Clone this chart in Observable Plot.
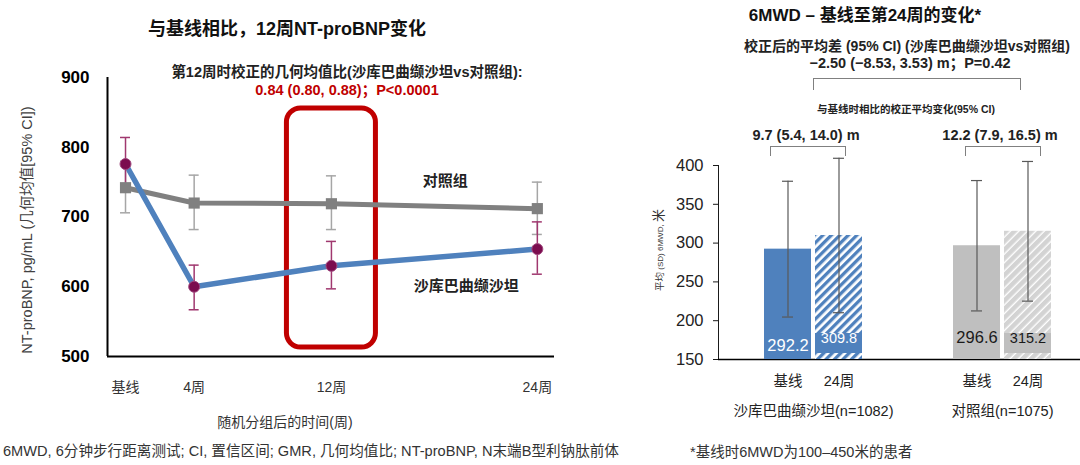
<!DOCTYPE html>
<html>
<head>
<meta charset="utf-8">
<script src="https://cdn.jsdelivr.net/npm/d3@7"></script>
<script src="https://cdn.jsdelivr.net/npm/@observablehq/plot@0.6"></script>
<style>
  body { margin: 0; background: #fff; }
  #root { position: relative; width: 1080px; height: 465px; overflow: hidden;
    font-family: "Liberation Sans", Arial, "Noto Sans CJK SC", sans-serif; color: #1a1a1a; }
  .t { position: absolute; white-space: nowrap; transform: translate(-50%, -50%); line-height: 1; }
  .l { position: absolute; white-space: nowrap; transform: translate(0, -50%); line-height: 1; }
  .b { font-weight: bold; }
  .br { position: absolute; border: 1.5px solid #808080; border-bottom: none; box-sizing: border-box; }
  #leftPlot { position: absolute; left: 0; top: 0; }
  #rightPlot { position: absolute; left: 640px; top: 0; }
  #leftPlot g[aria-label="y-axis tick label"] text, #leftPlot g[aria-label="y-axis"] text { font-size: 17px; font-weight: bold; fill: #000; }
  #leftPlot g[aria-label="x-axis tick label"] text, #leftPlot g[aria-label="x-axis"] text { font-size: 14px; fill: #333; }
  #rightPlot g[aria-label="y-axis tick label"] text, #rightPlot g[aria-label="y-axis"] text { font-size: 16.5px; fill: #222; }
  #rightPlot g[aria-label="x-axis tick label"] text, #rightPlot g[aria-label="x-axis"] text { font-size: 14.5px; fill: #222; }
</style>
</head>
<body>
<svg width="0" height="0" style="position:absolute">
  <defs>
    <pattern id="hatchBlue" patternUnits="userSpaceOnUse" width="6" height="6" patternTransform="rotate(45)">
      <rect width="6" height="6" fill="#ffffff"></rect>
      <rect width="3.3" height="6" fill="#4f81bd"></rect>
    </pattern>
    <pattern id="hatchGray" patternUnits="userSpaceOnUse" width="6" height="6" patternTransform="rotate(45)">
      <rect width="6" height="6" fill="#ffffff"></rect>
      <rect width="4.6" height="6" fill="#d3d3d3"></rect>
    </pattern>
  </defs>
</svg>
<div id="root">
  <div id="leftPlot"></div>
  <div id="rightPlot"></div>

  <!-- left panel texts -->
  <div class="t b" style="left:287px;top:29px;font-size:18px;color:#111">与基线相比，12周NT-proBNP变化</div>
  <div class="t b" style="left:347px;top:72px;font-size:14.5px;color:#222">第12周时校正的几何均值比(沙库巴曲缬沙坦vs对照组):</div>
  <div class="t b" style="left:347px;top:90px;font-size:14.5px;color:#c00000">0.84 (0.80, 0.88)；P&lt;0.0001</div>
  <div class="t" style="left:27px;top:230px;transform:translate(-50%,-50%) rotate(-90deg);font-size:14.5px;color:#404040">NT-proBNP, pg/mL (几何均值[95% CI])</div>
  <div class="t" style="left:285px;top:422px;font-size:14px;color:#333">随机分组后的时间(周)</div>
  <div class="l" style="left:3px;top:451px;font-size:14.6px;color:#333">6MWD, 6分钟步行距离测试; CI, 置信区间; GMR, 几何均值比; NT-proBNP, N末端B型利钠肽前体</div>

  <!-- right panel texts -->
  <div class="t b" style="left:865px;top:15px;font-size:17px;color:#111">6MWD – 基线至第24周的变化*</div>
  <div class="t b" style="left:907px;top:46px;font-size:14px;color:#222">校正后的平均差 (95% CI) (沙库巴曲缬沙坦vs对照组)</div>
  <div class="t b" style="left:910px;top:63px;font-size:14.5px;color:#222">−2.50 (−8.53, 3.53) m；P=0.42</div>
  <div class="br" style="left:813px;top:78px;width:208px;height:12px"></div>
  <div class="t b" style="left:906px;top:109px;font-size:10.5px;color:#222">与基线时相比的校正平均变化(95% CI)</div>
  <div class="t b" style="left:806px;top:135px;font-size:14.5px;color:#222">9.7 (5.4, 14.0) m</div>
  <div class="t b" style="left:1000px;top:135px;font-size:14.5px;color:#222">12.2 (7.9, 16.5) m</div>
  <div class="br" style="left:770px;top:146px;width:76px;height:10px"></div>
  <div class="br" style="left:965px;top:146px;width:76px;height:10px"></div>
  <div class="t" style="left:658px;top:250px;transform:translate(-50%,-50%) rotate(-90deg);color:#333"><span style="font-size:9.5px">平均</span><span style="font-size:8px"> (SD) 6MWD, </span><span style="font-size:13px">米</span></div>
  <div class="l" style="left:690px;top:452px;font-size:14.5px;color:#333">*基线时6MWD为100–450米的患者</div>
</div>

<script>
// ---------- Left panel data: NT-proBNP geometric means [95% CI] ----------
const weeks = [0, 4, 12, 24];
const weekLabels = ["基线", "4周", "12周", "24周"];
const sacNT = [776, 600, 630, 654];
const sacLo = [740, 567, 597, 618];
const sacHi = [814, 631, 665, 693];
const ctlNT = [742, 720, 719, 712];
const ctlLo = [706, 682, 682, 675];
const ctlHi = [780, 760, 759, 750];
const seriesNames = ["沙库巴曲缬沙坦", "对照组"];
const ntTicks = [500, 600, 700, 800, 900];
const highlightWeek = [12];

// ---------- Right panel data: 6MWD mean (SD) ----------
const groups6 = ["沙库巴曲缬沙坦(n=1082)", "对照组(n=1075)"];
const times6 = ["基线", "24周"];
const sacMwd = [292.2, 309.8];
const sacSD = [87.5, 99.5];
const ctlMwd = [296.6, 315.2];
const ctlSD = [84.0, 90.0];
const mwdTicks = [150, 200, 250, 300, 350, 400];

const FONT = '"Liberation Sans", Arial, "Noto Sans CJK SC", sans-serif';

// ---- build left tables
const sacRows = weeks.map((w, i) => ({week: w, value: sacNT[i], lo: sacLo[i], hi: sacHi[i]}));
const ctlRows = weeks.map((w, i) => ({week: w, value: ctlNT[i], lo: ctlLo[i], hi: ctlHi[i]}));
const xMin = -1.05, xMax = 25;

const left = Plot.plot({
  width: 560, height: 465,
  marginLeft: 107, marginRight: 6, marginTop: 77, marginBottom: 109,
  style: {fontFamily: FONT, fontSize: "14px", color: "#1a1a1a", background: "transparent", overflow: "visible"},
  x: {domain: [xMin, xMax], ticks: weeks, tickFormat: d => weekLabels[weeks.indexOf(d)], tickSize: 0, tickPadding: 26, label: null},
  y: {domain: [ntTicks[0], ntTicks[ntTicks.length - 1]], ticks: ntTicks, tickSize: 0, tickPadding: 18, label: null},
  marks: [
    Plot.ruleY([ntTicks[0]], {stroke: "#000", strokeWidth: 2}),
    Plot.ruleX([xMin], {stroke: "#000", strokeWidth: 2}),
    Plot.rect(highlightWeek, {x1: d => d, x2: d => d, insetLeft: -44.5, insetRight: -44.5, insetTop: 31, insetBottom: 9,
      rx: 14, fill: "none", stroke: "#c00000", strokeWidth: 5}),
    Plot.line(ctlRows, {x: "week", y: "value", stroke: "#808080", strokeWidth: 5}),
    Plot.line(sacRows, {x: "week", y: "value", stroke: "#4f81bd", strokeWidth: 5.5}),
    Plot.ruleX(ctlRows, {x: "week", y1: "lo", y2: "hi", stroke: "#a6a6a6", strokeWidth: 1.5}),
    Plot.ruleY(ctlRows, {y: "lo", x1: "week", x2: "week", insetLeft: -5, insetRight: -5, stroke: "#a6a6a6", strokeWidth: 1.5}),
    Plot.ruleY(ctlRows, {y: "hi", x1: "week", x2: "week", insetLeft: -5, insetRight: -5, stroke: "#a6a6a6", strokeWidth: 1.5}),
    Plot.ruleX(sacRows, {x: "week", y1: "lo", y2: "hi", stroke: "#a0386f", strokeWidth: 1.5}),
    Plot.ruleY(sacRows, {y: "lo", x1: "week", x2: "week", insetLeft: -5, insetRight: -5, stroke: "#a0386f", strokeWidth: 1.5}),
    Plot.ruleY(sacRows, {y: "hi", x1: "week", x2: "week", insetLeft: -5, insetRight: -5, stroke: "#a0386f", strokeWidth: 1.5}),
    Plot.dot(ctlRows, {x: "week", y: "value", symbol: "square", r: 6.3, fill: "#808080"}),
    Plot.dot(sacRows, {x: "week", y: "value", r: 5.5, fill: "#7b0c4e", stroke: "#a14a80", strokeWidth: 1}),
    Plot.text(ctlRows.slice(-1), {x: "week", y: "value", text: () => seriesNames[1], dx: -92, dy: -27, fontWeight: "bold", fontSize: 15, fill: "#222"}),
    Plot.text(sacRows.slice(-1), {x: "week", y: "value", text: () => seriesNames[0], dx: -71, dy: 37, fontWeight: "bold", fontSize: 15, fill: "#222"})
  ]
});
document.getElementById("leftPlot").append(left);

// ---- build right table
const mwdRows = [];
groups6.forEach((g, gi) => times6.forEach((t, ti) => {
  const m = gi === 0 ? sacMwd[ti] : ctlMwd[ti];
  const s = gi === 0 ? sacSD[ti] : ctlSD[ti];
  mwdRows.push({group: g, time: t, mean: m, sd: s, gi, ti});
}));
const yFloor = mwdTicks[0];
const solid = ["#4f81bd", "#bfbfbf"];
const hatch = ["url(#hatchBlue)", "url(#hatchGray)"];
const labelInk = ["#ffffff", "#1a1a1a"];

const rMarks = [Plot.ruleY([yFloor], {stroke: "#000", strokeWidth: 1.5})];
mwdRows.forEach(r => {
  const isBase = r.ti === 0;
  const side = isBase ? {insetRight: 51} : {insetLeft: 51};
  const capSide = isBase ? {insetLeft: 18, insetRight: 69} : {insetLeft: 69, insetRight: 18};
  const dx = isBase ? -25.5 : 25.5;
  rMarks.push(Plot.barY([r], {x: "group", y1: () => yFloor, y2: "mean", fill: isBase ? solid[r.gi] : hatch[r.gi], ...side}));
  if (!isBase) {
    rMarks.push(Plot.barY([r], {x: "group", y1: () => yFloor, y2: () => yFloor, insetTop: -26, insetBottom: 6, fill: solid[r.gi], ...side}));
  }
  rMarks.push(Plot.ruleX([r], {x: "group", y1: d => d.mean - d.sd, y2: d => d.mean + d.sd, dx, stroke: "#595959", strokeWidth: 1.2}));
  rMarks.push(Plot.tickY([r], {x: "group", y: d => d.mean - d.sd, stroke: "#595959", strokeWidth: 1.2, ...capSide}));
  rMarks.push(Plot.tickY([r], {x: "group", y: d => d.mean + d.sd, stroke: "#595959", strokeWidth: 1.2, ...capSide}));
  rMarks.push(Plot.text([r], {x: "group", text: d => d.mean.toFixed(1), frameAnchor: "bottom", dx,
    dy: (isBase && r.gi === 0) ? -9 : -17, fontSize: isBase ? 16.5 : 14.5, fill: labelInk[r.gi]}));
  rMarks.push(Plot.text([r], {x: "group", text: "time", frameAnchor: "bottom", dx, dy: 26, fontSize: 14.5, fill: "#222"}));
});

const right = Plot.plot({
  width: 440, height: 465,
  marginLeft: 78, marginRight: 0, marginTop: 165, marginBottom: 106,
  style: {fontFamily: FONT, fontSize: "14px", color: "#1a1a1a", background: "transparent", overflow: "visible"},
  x: {domain: groups6, range: [124, 411], paddingInner: 0.4815, paddingOuter: 0, tickSize: 0, tickPadding: 46, label: null},
  y: {domain: [mwdTicks[0], mwdTicks[mwdTicks.length - 1]], ticks: mwdTicks, tickSize: 5, tickPadding: 10, label: null, line: true},
  marks: rMarks
});
document.getElementById("rightPlot").append(right);
</script>
</body>
</html>
